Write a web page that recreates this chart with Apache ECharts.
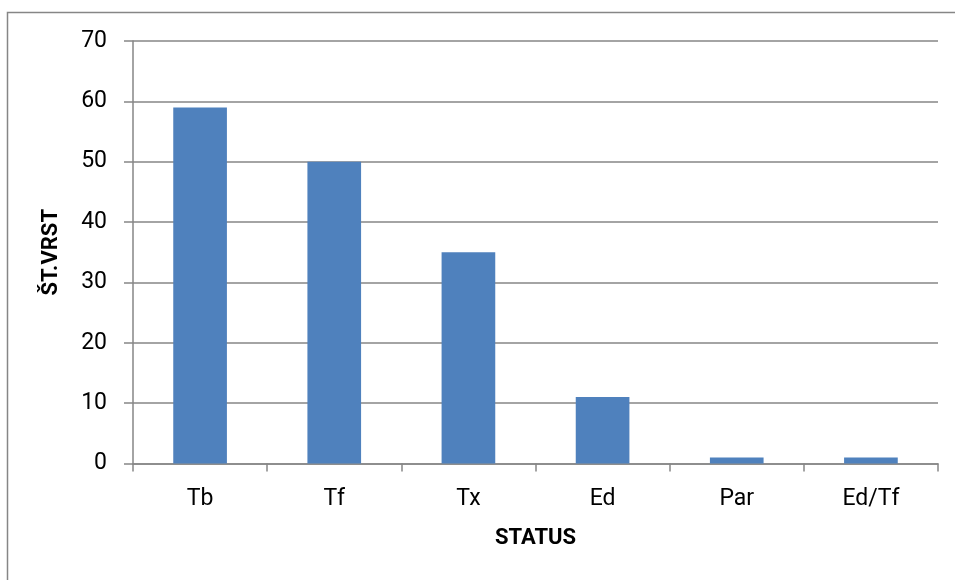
<!DOCTYPE html>
<html><head><meta charset="utf-8">
<script src="https://cdn.jsdelivr.net/npm/echarts@6/dist/echarts.min.js"></script>
<style>html,body{margin:0;padding:0;background:#fff}#c{width:955px;height:580px}</style>
</head><body><div id="c"></div>
<script>
const categories = ['Tb', 'Tf', 'Tx', 'Ed', 'Par', 'Ed/Tf'];
const values = [59, 50, 35, 11, 1, 1];
const yTicks = [0, 10, 20, 30, 40, 50, 60, 70];
const xName = 'STATUS';
const yName = 'ŠT.VRST';

const FONT = 'Roboto, "Open Sans", sans-serif';
const chart = echarts.init(document.getElementById('c'), null, {renderer: 'canvas'});
chart.setOption({
  animation: false,
  backgroundColor: '#fff',
  graphic: [{
    type: 'rect', shape: {x: 7.5, y: 12.5, width: 1000, height: 700},
    style: {fill: 'none', stroke: '#868686', lineWidth: 1.5}, silent: true
  }],
  grid: {left: 133, right: 17, top: 41, bottom: 116.5, containLabel: false},
  xAxis: {
    type: 'category', data: categories,
    name: xName, nameLocation: 'middle', nameGap: 64,
    nameTextStyle: {fontFamily: FONT, fontSize: 22, fontWeight: 'bold', color: '#000'},
    axisLine: {lineStyle: {color: '#868686', width: 1.5}},
    axisTick: {show: true, alignWithLabel: false, length: 8, lineStyle: {color: '#868686', width: 1.5}},
    axisLabel: {fontFamily: FONT, fontSize: 23, color: '#000', margin: 24}
  },
  yAxis: {
    type: 'value', min: yTicks[0], max: yTicks[yTicks.length - 1], interval: 10,
    name: yName, nameLocation: 'middle', nameGap: 71, nameRotate: 90,
    nameTextStyle: {fontFamily: FONT, fontSize: 22, fontWeight: 'bold', color: '#000'},
    axisLine: {show: true, lineStyle: {color: '#868686', width: 1.5}},
    axisTick: {show: true, inside: false, length: 9, lineStyle: {color: '#868686', width: 1.5}},
    splitLine: {show: true, lineStyle: {color: '#868686', width: 1.5}},
    axisLabel: {fontFamily: FONT, fontSize: 23, color: '#000', margin: 26}
  },
  series: [{
    type: 'bar', data: values, barWidth: '40%',
    itemStyle: {color: '#4F81BD'}
  }]
});
</script></body></html>
